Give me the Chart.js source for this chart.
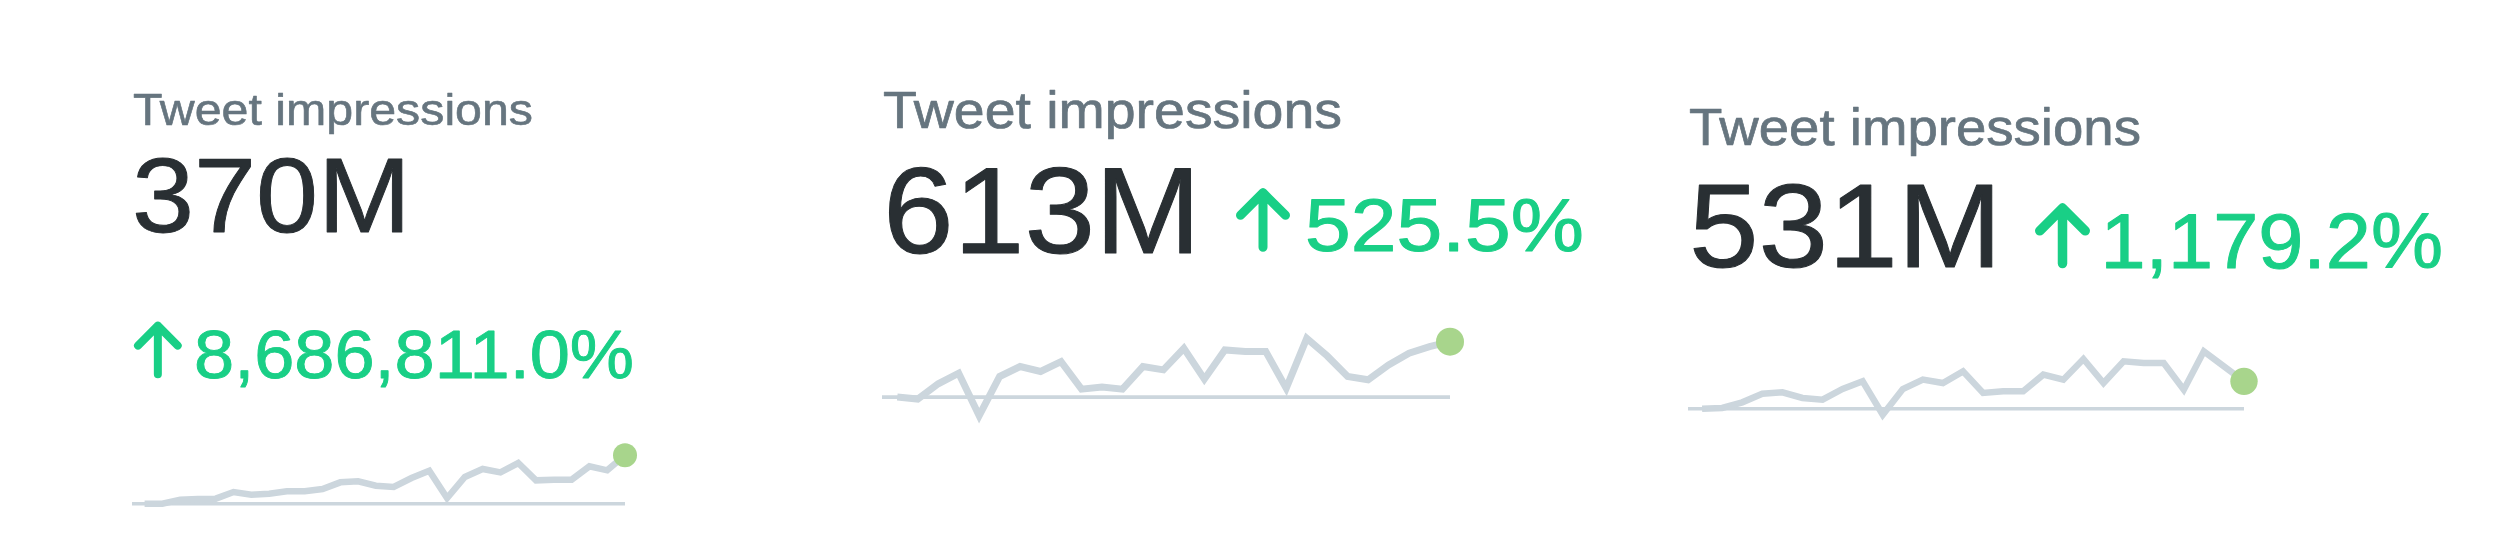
<!DOCTYPE html>
<html>
<head>
<meta charset="utf-8">
<script src="https://cdn.jsdelivr.net/npm/chart.js@4.4.0/dist/chart.umd.min.js"></script>
<style>
html, body { margin: 0; padding: 0; background: #fff; }
#page { position: relative; width: 2500px; height: 536px; overflow: hidden; background: #fff; }
#page canvas { position: absolute; }
#txt { position: absolute; left: 0; top: 0; }
</style>
</head>
<body>
<div id="page">
  <canvas id="spark1"></canvas>
  <canvas id="spark2"></canvas>
  <canvas id="spark3"></canvas>
  <svg id="txt" width="2500" height="536" xmlns="http://www.w3.org/2000/svg"></svg>
</div>
<script>
// card texts
const titles = ["Tweet impressions", "Tweet impressions", "Tweet impressions"];
const totals = ["370M", "613M", "531M"];
const changes = ["8,686,811.0%", "525.5%", "1,179.2%"];

// daily impressions, relative to the first day
const spark1 = [0, 0, 12, 14, 15, 35, 27, 30, 37, 37, 44, 64, 67, 54, 50, 77, 99, 17, 80, 104, 94, 122, 70, 72, 72, 112, 100, 145];
const spark2 = [0, -6, 40, 72, -56, 62, 92, 77, 107, 24, 30, 24, 92, 82, 147, 54, 142, 137, 137, 27, 177, 124, 62, 52, 97, 132, 152, 167];
const spark3 = [0, 2, 19, 45, 49, 32, 27, 59, 82, -18, 59, 87, 77, 112, 47, 52, 52, 102, 87, 149, 77, 142, 137, 137, 57, 172, 127, 82];

const GREY = "#66757f", DARK = "#292f33", GREEN = "#19cf86";
const LINE = "#ccd6dd", DOT = "#a8d58c";

// where each card sits on the page
const cards = [
  { title: { x: 133, y: 125, size: 45, len: 400, bold: 0.6 },
    total: { x: 132, y: 232, size: 105, len: 279, bold: 0.9 },
    change: { x: 194, y: 377.5, size: 68, len: 440, bold: 0.9 },
    arrow: [134, 321.7, 181.7, 378.3, 8],
    spark: { id: "spark1", x0: 144.3, x1: 625, left: 131.7, zeroY: 504, line: 6.5, base: 3.5, dot: 12 } },
  { title: { x: 883, y: 128, size: 52, len: 459, bold: 0.7 },
    total: { x: 883, y: 253, size: 123, len: 318, bold: 1.0 },
    change: { x: 1305, y: 251, size: 74, len: 279, bold: 1.0 },
    arrow: [1236, 188.3, 1290, 251.7, 9],
    spark: { id: "spark2", x0: 896.8, x1: 1449.8, left: 881.5, zeroY: 397, line: 7, base: 3.8, dot: 14 } },
  { title: { x: 1689, y: 145, size: 52, len: 452, bold: 0.7 },
    total: { x: 1689, y: 267, size: 119, len: 313, bold: 1.0 },
    change: { x: 2100.5, y: 268, size: 78, len: 342.5, bold: 1.0 },
    arrow: [2035, 203.3, 2090, 268.3, 9.5],
    spark: { id: "spark3", x0: 1702.5, x1: 2244, left: 1688.4, zeroY: 409, line: 6.5, base: 3.5, dot: 13.7 } }
];
const series = [spark1, spark2, spark3];

const svg = document.getElementById("txt");
const NS = "http://www.w3.org/2000/svg";

function addText(str, t, color) {
  const el = document.createElementNS(NS, "text");
  el.setAttribute("x", t.x);
  el.setAttribute("y", t.y);
  el.setAttribute("font-family", "'Liberation Sans', Arial, Helvetica, sans-serif");
  el.setAttribute("font-size", t.size);
  el.setAttribute("fill", color);
  el.setAttribute("stroke", color);
  el.setAttribute("stroke-width", t.bold);
  el.setAttribute("stroke-linejoin", "round");
  el.setAttribute("textLength", t.len);
  el.setAttribute("lengthAdjust", "spacingAndGlyphs");
  el.textContent = str;
  svg.appendChild(el);
}

function addArrow(a) {
  const [x0, y0, x1, y1, w] = a;
  const cx = (x0 + x1) / 2;
  const tip = y0 + w / 2;
  const wing = tip + (cx - x0 - w / 2);
  const p = document.createElementNS(NS, "path");
  p.setAttribute("d", `M${cx} ${y1 - w / 2} L${cx} ${tip} M${x0 + w / 2} ${wing} L${cx} ${tip} L${x1 - w / 2} ${wing}`);
  p.setAttribute("stroke", GREEN);
  p.setAttribute("stroke-width", w);
  p.setAttribute("stroke-linecap", "round");
  p.setAttribute("stroke-linejoin", "round");
  p.setAttribute("fill", "none");
  svg.appendChild(p);
}

function drawSpark(values, g) {
  const n = values.length;
  const step = (g.x1 - g.x0) / (n - 1);
  const xMin = (g.left - g.x0) / step;
  const xMax = n - 1;
  const u = 1 / 3; // px per unit
  const yMax = Math.max(...values) + 10;
  const yMin = Math.min(0, ...values) - 10;
  const pad = 18;
  const cv = document.getElementById(g.id);
  const w = Math.round(g.x1 - g.left + 2 * pad);
  const h = Math.round((yMax - yMin) * u + 2 * pad);
  cv.width = w; cv.height = h;
  cv.style.width = w + "px"; cv.style.height = h + "px";
  cv.style.left = (g.left - pad) + "px";
  cv.style.top = (g.zeroY - yMax * u - pad) + "px";

  new Chart(cv.getContext("2d"), {
    type: "line",
    data: {
      datasets: [
        {
          data: values.map((v, i) => ({ x: i, y: v })),
          borderColor: LINE,
          borderWidth: g.line,
          tension: 0,
          pointRadius: values.map((v, i) => (i === n - 1 ? g.dot : 0)),
          pointBackgroundColor: DOT,
          pointBorderColor: DOT,
          pointBorderWidth: 0,
          clip: false,
          order: 1
        },
        {
          data: [{ x: xMin, y: 0 }, { x: xMax, y: 0 }],
          borderColor: LINE,
          borderWidth: g.base,
          pointRadius: 0,
          clip: false,
          order: 2
        }
      ]
    },
    options: {
      responsive: false,
      animation: false,
      events: [],
      layout: { padding: pad },
      plugins: { legend: { display: false }, tooltip: { enabled: false } },
      scales: {
        x: { type: "linear", min: xMin, max: xMax, display: false },
        y: { min: yMin, max: yMax, display: false }
      }
    }
  });
}

cards.forEach((c, i) => {
  addText(titles[i], c.title, GREY);
  addText(totals[i], c.total, DARK);
  addArrow(c.arrow);
  addText(changes[i], c.change, GREEN);
  drawSpark(series[i], c.spark);
});
</script>
</body>
</html>
